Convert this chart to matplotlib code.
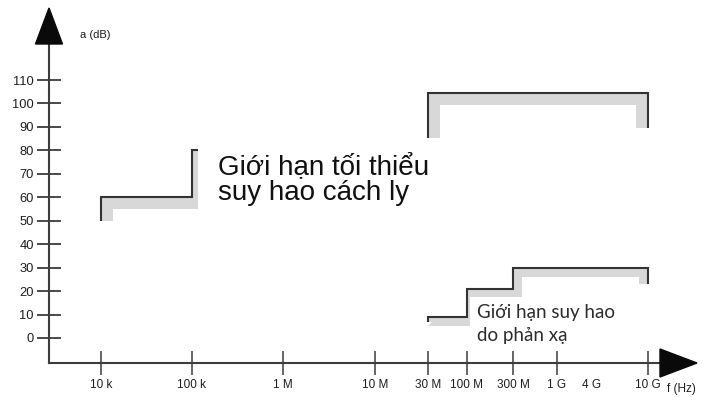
import numpy as np
import matplotlib
matplotlib.use('Agg')
import matplotlib.pyplot as plt
from matplotlib.patches import Polygon, Rectangle
from matplotlib.transforms import Affine2D

W, H = 705, 403

# ---- data ----
freq_ticks = [1e4, 1e5, 1e6, 1e7, 3e7, 1e8, 3e8, 1e9, 1e10]
freq_labels = ['10 k', '100 k', '1 M', '10 M', '30 M', '100 M', '300 M', '1 G', '10 G']
extra_freq = [4e9]
extra_labels = ['4 G']
db_ticks = list(range(0, 111, 10))

# minimum isolation attenuation (part of it is hidden under the label box)
iso_f = [1e4, 1e4, 1e5, 1e5, 3e7, 3e7, 1e10, 1e10]
iso_db = [50, 60, 60, 80, 80, 104.5, 104.5, 89.5]

# reflection attenuation limit
refl_f = [3e7, 3e7, 1e8, 1e8, 3e8, 3e8, 1e10, 1e10]
refl_db = [7, 9, 9, 21, 21, 30, 30, 23]

# ---- schematic frequency axis (drawing is not exactly logarithmic) ----
AXIS_LOGS = [0, 4, 5, 6, 7, np.log10(3e7), 8, np.log10(3e8), 9, np.log10(4e9), 10, 13]
AXIS_PX = [-263, 101, 192, 283, 375, 428, 467, 513, 557, 592, 648, 921]

def fwd(f):
    return np.interp(np.log10(np.clip(f, 1e-30, None)), AXIS_LOGS, AXIS_PX)

def inv(p):
    return 10 ** np.interp(p, AXIS_PX, AXIS_LOGS)

Y0 = 338          # pixel row of 0 dB
PX_PER_DB = 2.345

def db_at(py):
    return (Y0 - py) / PX_PER_DB

AXIS_COL = '#3c3c3c'
TXT_COL = '#1e1e1e'
SHADE_COL = '#d8d8d8'

fig = plt.figure(figsize=(W / 100, H / 100), dpi=100)
ax = fig.add_axes([0, 0, 1, 1])
ax.set_xscale('function', functions=(fwd, inv))
ax.set_xlim(inv(0), inv(W))
ax.set_ylim(db_at(H), db_at(0))

# pixel transform (origin top-left) for decorations
pix = Affine2D().scale(1 / W, -1 / H).translate(0, 1) + fig.transFigure

for s in ['top', 'right']:
    ax.spines[s].set_visible(False)
ax.spines['left'].set_position(('data', inv(49)))
ax.spines['bottom'].set_position(('data', db_at(363)))
ax.spines['left'].set_bounds(db_at(363), db_at(43))
ax.spines['bottom'].set_bounds(inv(49), inv(662))
for s in ['left', 'bottom']:
    ax.spines[s].set_color(AXIS_COL)
    ax.spines[s].set_linewidth(1.5)

ax.set_yticks(db_ticks, labels=[str(v) for v in db_ticks])
ax.set_xticks(freq_ticks, labels=freq_labels)
ax.set_xticks(extra_freq, labels=extra_labels, minor=True)
ax.tick_params(axis='y', direction='inout', length=17, width=1.3, color=AXIS_COL,
               pad=2.5, labelsize=9.3, labelcolor=TXT_COL)
ax.tick_params(axis='x', which='major', direction='inout', length=17, width=1.1,
               color=AXIS_COL, pad=3, labelsize=8.5, labelcolor=TXT_COL)
ax.tick_params(axis='x', which='minor', length=0, pad=11.5, labelsize=8.5,
               labelcolor=TXT_COL)
for lab in ax.get_xticklabels(minor=False) + ax.get_xticklabels(minor=True) + ax.get_yticklabels():
    lab.set_family('Liberation Sans')

# arrow heads
ax.add_patch(Polygon([(49, 8), (35.5, 44), (62.5, 44)], closed=True, transform=pix,
                     color='#0a0a0a', zorder=6, clip_on=False))
ax.add_patch(Polygon([(697, 363), (660, 349), (660, 377)], closed=True, transform=pix,
                     color='#0a0a0a', zorder=6, clip_on=False))

ax.text(80, 35, 'a (dB)', transform=pix, ha='left', va='center', fontsize=8,
        family='Liberation Sans', color=TXT_COL)
ax.text(667, 389, 'f (Hz)', transform=pix, ha='left', va='center', fontsize=8.5,
        family='Liberation Sans', color=TXT_COL)


def limit_curve(f, db, band_px):
    ybot = db_at(H)
    verts = [(f[0], ybot)] + list(zip(f, db)) + [(f[-1] * 3, db[-1]), (f[-1] * 3, ybot)]
    clip = Polygon(verts, closed=True, transform=ax.transData)
    shade, = ax.plot(f, db, color=SHADE_COL, lw=2 * band_px * 0.72,
                     solid_capstyle='butt', solid_joinstyle='miter', zorder=2)
    shade.set_clip_path(clip)
    ax.plot(f, db, color='#333333', lw=1.5, solid_capstyle='butt',
            solid_joinstyle='miter', zorder=3)


limit_curve(iso_f, iso_db, 12)
limit_curve(refl_f, refl_db, 9)

# label boxes (white background hides part of the curves)
ax.add_patch(Rectangle((198, 138), 264, 94, transform=pix, facecolor='white',
                       edgecolor='none', zorder=4))
ax.text(218, 174, 'Giới hạn tối thiểu', transform=pix, ha='left', va='baseline',
        fontsize=20, family='Liberation Sans', color='#111111', zorder=5)
ax.text(218, 200, 'suy hao cách ly', transform=pix, ha='left', va='baseline',
        fontsize=20, family='Liberation Sans', color='#111111', zorder=5)

ax.add_patch(Rectangle((470, 297), 165, 50, transform=pix, facecolor='white',
                       edgecolor='none', zorder=4))
ax.text(477, 318, 'Giới hạn suy hao', transform=pix, ha='left', va='baseline',
        fontsize=13.5, family='Lato', color='#2b2b2b', zorder=5)
ax.text(477, 341, 'do phản xạ', transform=pix, ha='left', va='baseline',
        fontsize=13.5, family='Lato', color='#2b2b2b', zorder=5)

fig.savefig('out.png', dpi=100)
